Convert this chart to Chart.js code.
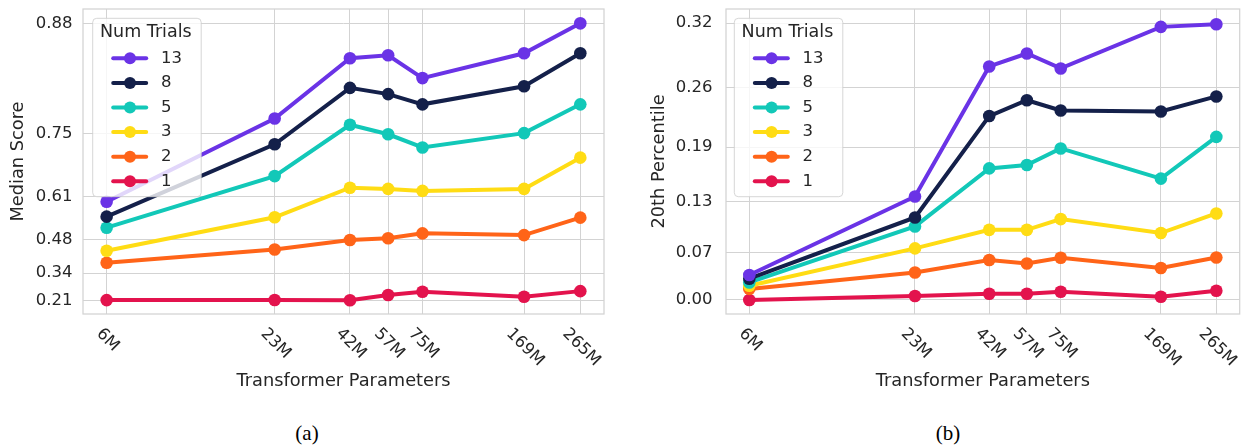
<!DOCTYPE html>
<html lang="en">
<head>
<meta charset="UTF-8" />
<title>Num Trials vs Transformer Parameters</title>
<script src="https://cdn.jsdelivr.net/npm/chart.js@4"></script>
<style>
  html, body { margin: 0; padding: 0; background: #fff; overflow: hidden; }
  .Figure { position: relative; width: 1245px; height: 445px; overflow: hidden; background: #fff; }
  .Panel { position: absolute; top: 0; }
  #panelA { left: 0; }
  #panelB { left: 640px; }
  .Caption {
    position: absolute; top: 423px; line-height: 21px;
    font-family: "Liberation Serif", "Times New Roman", serif; font-size: 21px; color: #000;
    transform: translateX(-50%);
  }
</style>
</head>
<body>
<div class="Figure">
  <canvas class="Panel" id="panelA" width="622" height="400"></canvas>
  <canvas class="Panel" id="panelB" width="606" height="400"></canvas>
  <div class="Caption" style="left: 307px">(a)</div>
  <div class="Caption" style="left: 948px">(b)</div>
</div>
<script>
// model sizes (millions of parameters)
const params = [6, 23, 42, 57, 75, 169, 265];
const paramLabels = ["6M", "23M", "42M", "57M", "75M", "169M", "265M"];
const trials = ["13", "8", "5", "3", "2", "1"];
const colors = ["#6a33e6", "#14204a", "#12c8b8", "#ffdc14", "#ff6418", "#e3134d"];

// (a) median score
const median13 = [0.597, 0.772, 0.849, 0.852, 0.827, 0.854, 0.881];
const median8 = [0.554, 0.728, 0.815, 0.807, 0.793, 0.817, 0.854];
const median5 = [0.519, 0.662, 0.762, 0.746, 0.722, 0.748, 0.793];
const median3 = [0.437, 0.552, 0.634, 0.631, 0.626, 0.631, 0.702];
const median2 = [0.389, 0.442, 0.477, 0.483, 0.500, 0.494, 0.551];
const median1 = [0.211, 0.212, 0.210, 0.238, 0.255, 0.229, 0.258];
const medianTicks = [0.210, 0.344, 0.478, 0.612, 0.747, 0.881];

// (b) 20th percentile
const p20_13 = [0.0355, 0.1365, 0.281, 0.294, 0.279, 0.320, 0.3225];
const p20_8 = [0.0305, 0.1106, 0.229, 0.246, 0.235, 0.234, 0.250];
const p20_5 = [0.0254, 0.0993, 0.170, 0.174, 0.193, 0.158, 0.206];
const p20_3 = [0.0209, 0.0710, 0.095, 0.095, 0.1086, 0.0909, 0.1156];
const p20_2 = [0.0165, 0.039, 0.0557, 0.0511, 0.0587, 0.045, 0.0591];
const p20_1 = [0.001, 0.0066, 0.0098, 0.0098, 0.0126, 0.0056, 0.014];
const p20Ticks = [0.001, 0.0655, 0.130, 0.1945, 0.259, 0.3235];

const TEXT = "#262626";
const GRID = "#d3d3d3";
const FONT = '"DejaVu Sans", sans-serif';

// y axis drawn as -log(1 - v), like the original figure
const toT = (v) => -Math.log(1 - v);
const fromT = (t) => 1 - Math.exp(-t);

class ComplementLogScale extends Chart.Scale {
  static id = "complementLog";
  static defaults = {};
  determineDataLimits() {
    const { min, max } = this.getMinMax(true);
    this.min = min;
    this.max = max;
  }
  buildTicks() {
    return [];
  }
  getLabelForValue(value) {
    return value.toFixed(3);
  }
  configure() {
    super.configure();
    this._startValue = toT(this.min);
    this._valueRange = toT(this.max) - this._startValue;
  }
  getPixelForValue(value) {
    if (value === undefined || value === null) value = this.min;
    return this.getPixelForDecimal((toT(value) - this._startValue) / this._valueRange);
  }
  getValueForPixel(pixel) {
    return fromT(this._startValue + this.getDecimalForPixel(pixel) * this._valueRange);
  }
}
Chart.register(ComplementLogScale);

const extras = {
  id: "extras",
  beforeDatasetsDraw(chart) {
    const { ctx, chartArea: a } = chart;
    ctx.save();
    ctx.strokeStyle = GRID;
    ctx.lineWidth = 1.25;
    ctx.strokeRect(a.left, a.top, a.right - a.left, a.bottom - a.top);
    ctx.restore();
  },
  afterDatasetsDraw(chart, args, opts) {
    // legend box, matplotlib style
    const { ctx } = chart;
    const lx = opts.legendX, ly = 18.3;
    ctx.save();
    ctx.beginPath();
    ctx.roundRect(lx, ly, 108.5, 178.4, 4);
    ctx.fillStyle = "rgba(255,255,255,0.8)";
    ctx.fill();
    ctx.strokeStyle = "rgba(204,204,204,0.8)";
    ctx.lineWidth = 1;
    ctx.stroke();
    ctx.textAlign = "left";
    ctx.textBaseline = "middle";
    ctx.fillStyle = TEXT;
    ctx.font = "17.5px " + FONT;
    ctx.fillText("Num Trials", lx + 7.3, 32.5);
    chart.data.datasets.forEach((ds, i) => {
      const y = 58.3 + i * 24.6;
      ctx.strokeStyle = ds.borderColor;
      ctx.lineWidth = 4;
      ctx.lineCap = "round";
      ctx.beginPath();
      ctx.moveTo(lx + 20.5, y);
      ctx.lineTo(lx + 53.5, y);
      ctx.stroke();
      ctx.fillStyle = ds.borderColor;
      ctx.beginPath();
      ctx.arc(lx + 37.3, y, 6, 0, Math.PI * 2);
      ctx.fill();
      ctx.fillStyle = TEXT;
      ctx.font = "16.5px " + FONT;
      ctx.fillText(ds.label, lx + 68.3, y);
    });
    ctx.restore();
  },
  afterDraw(chart) {
    // x tick labels turned 45deg clockwise
    const { ctx, chartArea: a, scales } = chart;
    const x = scales.x;
    ctx.save();
    ctx.font = "16.5px " + FONT;
    ctx.fillStyle = TEXT;
    ctx.textAlign = "center";
    ctx.textBaseline = "middle";
    x.ticks.forEach((t, i) => {
      const label = paramLabels[i];
      const w = ctx.measureText(label).width;
      const px = x.getPixelForValue(t.value) + 1;
      const cy = a.bottom + 13 + ((w + 12) * Math.SQRT1_2) / 2;
      ctx.save();
      ctx.translate(px, cy);
      ctx.rotate(Math.PI / 4);
      ctx.fillText(label, 0, 0);
      ctx.restore();
    });
    ctx.restore();
  },
};

function makeDatasets(series) {
  return series.map((vals, i) => ({
    label: trials[i],
    data: params.map((p, j) => ({ x: p, y: vals[j] })),
    borderColor: colors[i],
    backgroundColor: colors[i],
    borderWidth: 4,
    pointRadius: 6.3,
    pointBorderWidth: 0,
    pointHoverRadius: 6.3,
    tension: 0,
  }));
}

function makeChart(id, opts) {
  return new Chart(document.getElementById(id), {
    type: "line",
    data: { datasets: makeDatasets(opts.series) },
    plugins: [extras],
    options: {
      responsive: false,
      animation: false,
      layout: { padding: { left: 0, top: 9, right: opts.padRight, bottom: 0 } },
      plugins: {
        legend: { display: false },
        tooltip: { enabled: false },
        extras: { legendX: opts.legendX },
      },
      scales: {
        x: {
          type: "logarithmic",
          min: 4.966,
          max: 320.3,
          bounds: "data",
          afterBuildTicks: (s) => {
            s.ticks = params.map((v) => ({ value: v }));
          },
          afterFit: (s) => {
            s.height = 86;
            s.paddingLeft = 0;
            s.paddingRight = 0;
          },
          ticks: { display: false },
          grid: { color: GRID, lineWidth: 1, drawTicks: false },
          border: { display: false },
          title: {
            display: true,
            text: "Transformer Parameters",
            color: TEXT,
            font: { family: FONT, size: 17.8 },
            padding: { top: 0, bottom: 8.2 },
          },
        },
        y: {
          type: "complementLog",
          min: opts.yMin,
          max: opts.yMax,
          afterBuildTicks: (s) => {
            s.ticks = opts.yTicks.map((v) => ({ value: v }));
          },
          afterFit: (s) => {
            s.width = opts.yWidth;
            s.paddingTop = 0;
            s.paddingBottom = 0;
          },
          ticks: {
            color: TEXT,
            font: { family: FONT, size: 16.5 },
            padding: opts.tickPad,
            callback: (v) => v.toFixed(2),
          },
          grid: { color: GRID, lineWidth: 1, drawTicks: false },
          border: { display: false },
          title: {
            display: true,
            text: opts.yTitle,
            color: TEXT,
            font: { family: FONT, size: 17.8 },
            padding: { top: opts.titlePad, bottom: 0 },
          },
        },
      },
    },
  });
}

makeChart("panelA", {
  series: [median13, median8, median5, median3, median2, median1],
  yTicks: medianTicks,
  yMin: 0.1325,
  yMax: 0.8921,
  yTitle: "Median Score",
  yWidth: 83,
  padRight: 18,
  tickPad: 10.5,
  titlePad: 7.5,
  legendX: 92.7,
});

makeChart("panelB", {
  series: [p20_13, p20_8, p20_5, p20_3, p20_2, p20_1],
  yTicks: p20Ticks,
  yMin: -0.0189,
  yMax: 0.3369,
  yTitle: "20th Percentile",
  yWidth: 86,
  padRight: 0,
  tickPad: 13.5,
  titlePad: 9.2,
  legendX: 94.3,
});
</script>
</body>
</html>
